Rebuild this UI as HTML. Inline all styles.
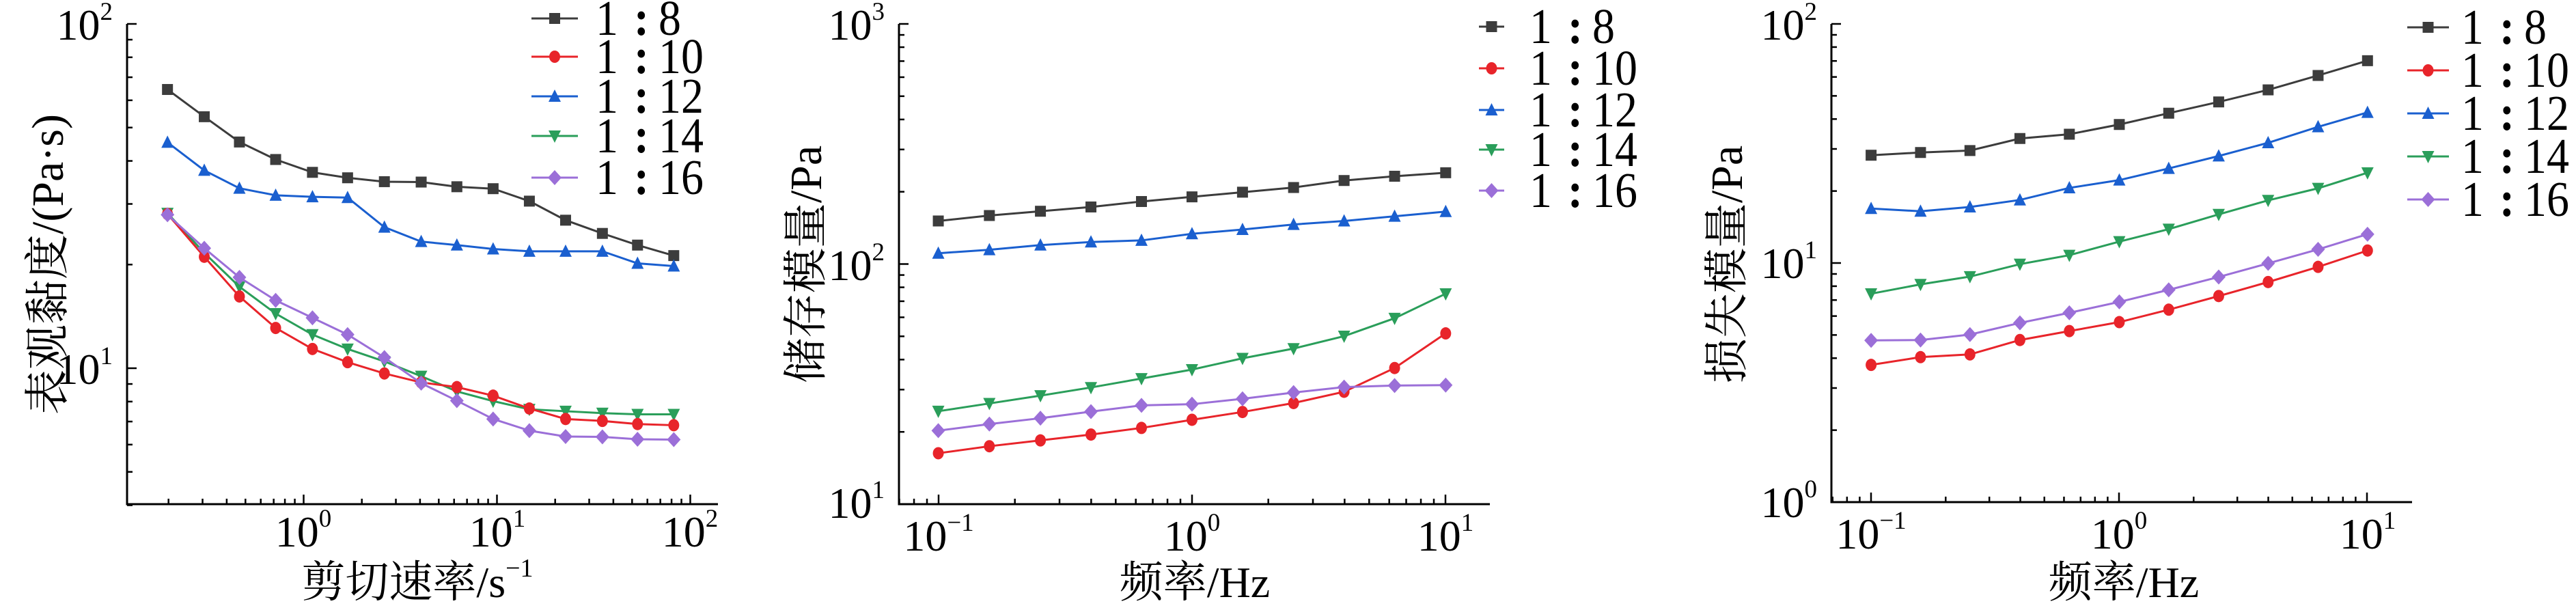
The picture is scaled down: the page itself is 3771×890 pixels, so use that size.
<!DOCTYPE html>
<html><head><meta charset="utf-8"><style>
html,body{margin:0;padding:0;background:#fff;}
svg{display:block;}
text{font-family:"Liberation Serif","Noto Serif CJK SC",serif;fill:#000;}
</style></head><body>
<svg id="s" width="3771" height="890" xmlns="http://www.w3.org/2000/svg"></svg>
<script>
const S=document.getElementById('s');let h='';
const C={k:'#3c3c3c',r:'#e8242a',b:'#1a5fcf',g:'#2a9e5a',p:'#9b6fd8'};
const SX=1.244,SY=1.756;
function mk(t,x,y,c){const s=8;
 if(t=='k')return `<rect x="${x-s}" y="${y-s}" width="${2*s}" height="${2*s}" fill="${c}"/>`;
 if(t=='r')return `<ellipse cx="${x}" cy="${y}" rx="${s}" ry="${s+1}" fill="${c}"/>`;
 if(t=='b')return `<polygon points="${x},${y-s-2} ${x+s+1},${y+s} ${x-s-1},${y+s}" fill="${c}"/>`;
 if(t=='g')return `<polygon points="${x},${y+s+2} ${x+s+1},${y-s} ${x-s-1},${y-s}" fill="${c}"/>`;
 return `<polygon points="${x},${y-s-3} ${x+s+2},${y} ${x},${y+s+3} ${x-s-2},${y}" fill="${c}"/>`;}
function ser(off,xs,ys,t){const c=C[t];const p=xs.map((x,i)=>[off+x/SX,ys[i]/SY]);
 h+=`<polyline points="${p.map(a=>a.join(',')).join(' ')}" fill="none" stroke="${c}" stroke-width="3"/>`;
 p.forEach(a=>h+=mk(t,a[0],a[1],c));}
function tl(x,y,e,anchor){
 h+=`<text x="${x}" y="${y}" font-size="64" text-anchor="${anchor}">10<tspan font-size="37" dy="-29">${e}</tspan></text>`;}
function axes(ax,top,bot,right,yt,xt){
 h+=`<path d="M${ax} ${top}V${bot}H${right}" fill="none" stroke="#000" stroke-width="3"/>`;
 yt.forEach(([y,maj])=>h+=`<line x1="${ax}" x2="${ax+(maj?14:8)}" y1="${y}" y2="${y}" stroke="#000" stroke-width="2.5"/>`);
 xt.forEach(([x,maj])=>h+=`<line x1="${x}" x2="${x}" y1="${bot}" y2="${bot-(maj?14:8)}" stroke="#000" stroke-width="2.5"/>`);}
function logTicksX(x0,dec,lo,hi,base){const r=[];for(let e=Math.floor(lo);e<=hi;e++)for(let m=1;m<10;m++){const l=e+Math.log10(m);if(l<lo||l>hi)continue;r.push([x0+(l-base)*dec,m==1]);}return r;}
function legend(lx1,lx2,tx,ys){const t=['k','r','b','g','p'],n=['8','10','12','14','16'];
 ys.forEach((y,i)=>{const c=C[t[i]];h+=`<line x1="${lx1}" x2="${lx2}" y1="${y}" y2="${y}" stroke="${c}" stroke-width="3"/>`+mk(t[i],(lx1+lx2)/2,y,c);
 h+=`<g transform="translate(${tx},${y+24}) scale(1,1.1)"><text x="0" y="0" font-size="66">1</text><text x="56" y="0" font-size="66" font-weight="bold">:</text><text x="92" y="0" font-size="66">${n[i]}</text></g>`;});}
function ytitle(x,txt){h+=`<text transform="translate(${x},387) rotate(-90)" font-size="66" text-anchor="middle">${txt}</text>`;}
// Panel 1
{const ax=186,top=35,bot=738,right=1051;
 const yt2=[];for(let m=4;m<10;m++)yt2.push([539+504-Math.log10(m)*504,false]);for(let m=1;m<=10;m++)yt2.push([539-Math.log10(m)*504,m==1||m==10]);
 const xt=logTicksX(444.5,283,-0.91,2.0,0);
 axes(ax,top,bot,right,yt2,xt);
 tl(165,58,2,'end');tl(165,562,1,'end');
 tl(444,800,0,'middle');tl(728,800,1,'middle');tl(1010,800,2,'middle');
 const X=[305,372,436,502,569,633,700,767,832,898,964,1030,1097,1161,1227];
 ser(0,X,[230,300,365,410,443,457,467,468,480,485,517,566,600,630,657],'k');
 ser(0,X,[366,438,484,502,506,508,584,621,630,640,646,646,646,677,684],'b');
 ser(0,X,[548,650,737,806,860,897,929,967,1006,1031,1052,1057,1062,1065,1065],'g');
 ser(0,X,[550,660,762,843,897,931,960,983,995,1017,1050,1077,1082,1090,1093],'r');
 ser(0,X,[552,638,713,772,817,860,919,985,1030,1077,1107,1122,1123,1129,1130],'p');
 legend(778,846,872,[27,83,141,199,260]);
 h+=`<text x="611" y="874" font-size="64" text-anchor="middle">剪切速率/s<tspan font-size="38" dy="-30">−1</tspan></text>`;
 ytitle(92,'表观黏度/(Pa·s)');}
// Panel 2
{const ax=1316,top=35,bot=738,right=2181,dec=351.5;
 const yt=[];for(let e=1;e<3;e++)for(let m=1;m<10;m++)yt.push([738-((e-1)+Math.log10(m))*dec,m==1]);yt.push([35,true]);
 const xt=logTicksX(1745,371,-1.16,1.18,0);
 axes(ax,top,bot,right,yt,xt);
 tl(1295,58,3,'end');tl(1295,410,2,'end');tl(1295,758,1,'end');
 tl(1374,806,'−1','middle');tl(1745,806,0,'middle');tl(2116,806,1,'middle');
 const X=[303,396,489,581,673,765,857,950,1042,1134,1227];const o=1130;
 ser(o,X,[568,554,543,532,518,506,494,482,464,453,444],'k');
 ser(o,X,[651,642,630,622,618,601,590,577,568,556,544],'b');
 ser(o,X,[1057,1037,1017,996,973,950,921,896,864,818,755],'g');
 ser(o,X,[1165,1147,1132,1117,1100,1079,1059,1036,1007,946,857],'r');
 ser(o,X,[1107,1090,1075,1058,1042,1039,1025,1009,995,991,990],'p');
 legend(2165,2202,2239,[39,100,161,219,279]);
 h+=`<text x="1749" y="874" font-size="64" text-anchor="middle">频率/Hz</text>`;
 ytitle(1202,'储存模量/Pa');}
// Panel 3
{const ax=2681,top=35,bot=735,right=3531,dec=350;
 const yt=[];for(let e=0;e<2;e++)for(let m=1;m<10;m++)yt.push([735-(e+Math.log10(m))*dec,m==1]);yt.push([35,true]);
 const xt=logTicksX(3102,363,-1.17,1.18,0);
 axes(ax,top,bot,right,yt,xt);
 tl(2660,58,2,'end');tl(2660,407,1,'end');tl(2660,757,0,'end');
 tl(2739,803,'−1','middle');tl(3102,803,0,'middle');tl(3466,803,1,'middle');
 const X=[285,375,465,556,646,737,827,918,1008,1099,1189];const o=2510;
 ser(o,X,[399,392,387,356,345,320,291,262,231,194,156],'k');
 ser(o,X,[536,543,532,514,483,463,433,401,367,326,289],'b');
 ser(o,X,[755,731,711,679,656,621,589,551,515,484,444],'g');
 ser(o,X,[875,874,860,830,804,776,745,712,677,641,602],'p');
 ser(o,X,[938,918,911,874,851,828,796,761,725,686,644],'r');
 legend(3524,3585,3603,[40,103,166,229,292]);
 h+=`<text x="3109" y="874" font-size="64" text-anchor="middle">频率/Hz</text>`;
 ytitle(2550,'损失模量/Pa');}
S.innerHTML=h;
</script>
</body></html>
